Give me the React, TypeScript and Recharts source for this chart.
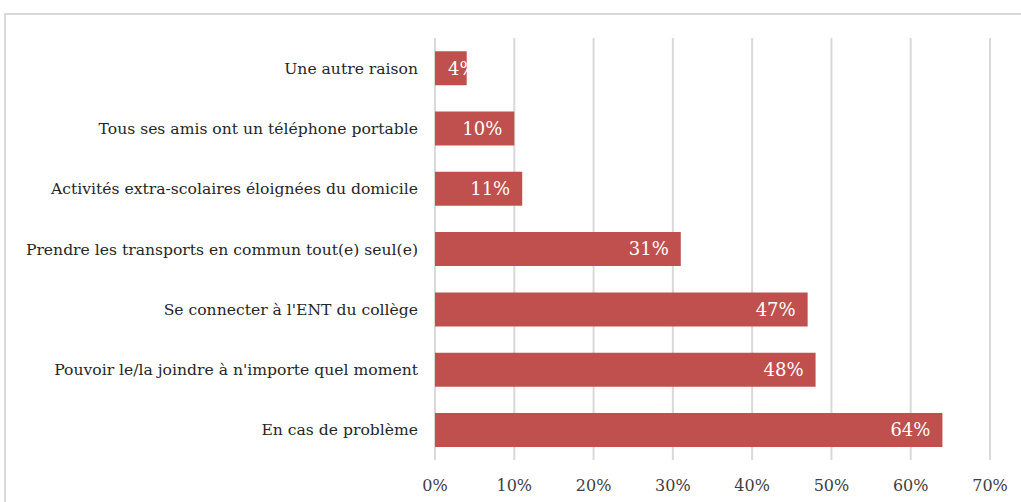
import { BarChart, Bar, XAxis, YAxis, CartesianGrid, LabelList } from "recharts";

const categories = [
  "Une autre raison",
  "Tous ses amis ont un téléphone portable",
  "Activités extra-scolaires éloignées du domicile",
  "Prendre les transports en commun tout(e) seul(e)",
  "Se connecter à l'ENT du collège",
  "Pouvoir le/la joindre à n'importe quel moment",
  "En cas de problème",
];
const values = [4, 10, 11, 31, 47, 48, 64];
const xTicks = [0, 10, 20, 30, 40, 50, 60, 70];

const data = categories.map((name, i) => ({ name, value: values[i] }));

const FONT = "'DejaVu Serif', 'Liberation Serif', serif";

// inside-end label; short bars get the label pushed from the bar start (like Excel)
function BarLabel(props: any) {
  const { x, y, width, height, value } = props;
  const short = width < 40;
  return (
    <text
      x={short ? x + 13 : x + width - 12}
      y={y + height / 2}
      dy="0.35em"
      textAnchor={short ? "start" : "end"}
      fill="#ffffff"
      fontSize={18}
      fontFamily={FONT}
    >
      {`${value}%`}
    </text>
  );
}

export default function App() {
  return (
    <div
      style={{
        position: "absolute",
        left: 4,
        top: 13,
        width: 1030,
        height: 500,
        border: "2px solid #d9d9d9",
        background: "#fff",
        fontFamily: FONT,
      }}
    >
      <BarChart
        layout="vertical"
        width={1012}
        height={488}
        data={data}
        barCategoryGap="22%"
        margin={{ top: 23, right: 28, bottom: 0, left: 0 }}
      >
        <CartesianGrid horizontal={false} stroke="#d9d9d9" strokeWidth={2} />
        <XAxis
          type="number"
          domain={[0, 70]}
          ticks={xTicks}
          tickFormatter={(v) => `${v}%`}
          axisLine={false}
          tickLine={false}
          tickSize={0}
          tickMargin={20}
          height={43}
          interval={0}
          tick={{ fill: "#404040", fontSize: 16, fontFamily: FONT }}
        />
        <YAxis
          type="category"
          dataKey="name"
          width={429}
          axisLine={false}
          tickLine={false}
          tickSize={0}
          tickMargin={17}
          interval={0}
          tick={{ fill: "#262626", fontSize: 15.6, fontFamily: FONT }}
        />
        <Bar dataKey="value" fill="#C0504D" isAnimationActive={false}>
          <LabelList dataKey="value" content={BarLabel} />
        </Bar>
      </BarChart>
    </div>
  );
}
